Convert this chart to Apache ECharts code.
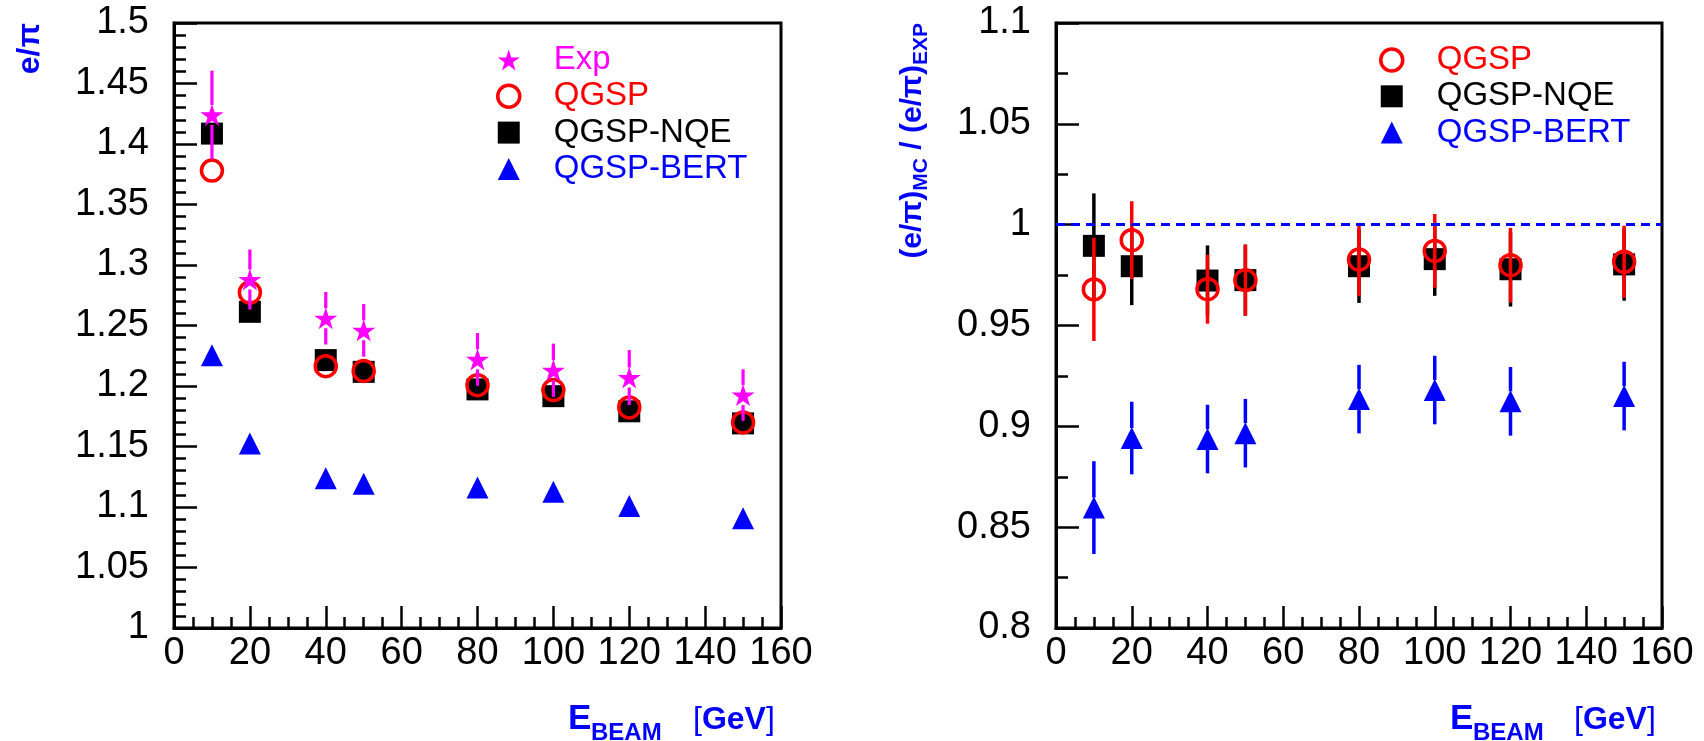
<!DOCTYPE html>
<html><head><meta charset="utf-8">
<script src="https://cdn.jsdelivr.net/npm/echarts@6/dist/echarts.min.js"></script>
<style>html,body{margin:0;padding:0;background:#fff}#c{width:1704px;height:741px}</style>
</head><body><div id="c"></div>
<script>
// ---------- data ----------
const energies = [10, 20, 40, 50, 80, 100, 120, 150];

// left panel: e/pi
const expVal  = [1.424, 1.288, 1.256, 1.246, 1.222, 1.213, 1.207, 1.1925];
const expErr  = [0.0366, 0.0248, 0.0217, 0.0218, 0.0218, 0.022, 0.0227, 0.0213];
const qgspVal = [1.378, 1.2773, 1.2164, 1.2125, 1.2007, 1.1966, 1.1823, 1.1699];
const nqeVal  = [1.4086, 1.2613, 1.2214, 1.2117, 1.1972, 1.1916, 1.1791, 1.1691];
const bertVal = [1.2255, 1.1525, 1.1238, 1.1193, 1.1162, 1.1126, 1.1008, 1.0906];

// right panel: (e/pi)_MC / (e/pi)_EXP
const rQgspVal = [0.9679, 0.9923, 0.968, 0.9725, 0.9827, 0.987, 0.9799, 0.9816];
const rQgspErr = [0.0256, 0.0193, 0.0171, 0.0176, 0.0182, 0.0183, 0.0185, 0.0179];
const rNqeVal  = [0.9895, 0.9794, 0.9723, 0.9725, 0.9794, 0.9829, 0.9779, 0.9803];
const rNqeErr  = [0.026, 0.0193, 0.0174, 0.0176, 0.0182, 0.0182, 0.0185, 0.018];
const rBertVal = [0.8597, 0.8942, 0.8937, 0.8966, 0.9135, 0.918, 0.9124, 0.915];
const rBertErr = [0.023, 0.018, 0.017, 0.017, 0.017, 0.017, 0.017, 0.017];
const refLine  = [1];

// tick labels
const xTicks      = [0, 20, 40, 60, 80, 100, 120, 140, 160];
const leftYTicks  = [1, 1.05, 1.1, 1.15, 1.2, 1.25, 1.3, 1.35, 1.4, 1.45, 1.5];
const rightYTicks = [0.8, 0.85, 0.9, 0.95, 1, 1.05, 1.1];

// ---------- helpers ----------
const FONT = '"Liberation Sans", Arial, Helvetica, sans-serif';
const BLUE = '#0000ff', RED = '#ff0000', MAG = '#ff00ff', BLK = '#000000';
const STAR = 'path://M0,-1L0.2245,-0.309L0.951,-0.309L0.363,0.118L0.588,0.809L0,0.382L-0.588,0.809L-0.363,0.118L-0.951,-0.309L-0.2245,-0.309Z';

const pts = (vals) => energies.map((e, i) => [e, vals[i]]);
const errPts = (vals, errs) => energies.map((e, i) => [e, vals[i], vals[i] - errs[i], vals[i] + errs[i]]);
const step = (t) => Math.round((t[1] - t[0]) * 1e6) / 1e6;

function errRender(color, width, gap) {
  return function (params, api) {
    const x = api.value(0), v = api.value(1), lo = api.value(2), hi = api.value(3);
    const pc = api.coord([x, v]), pl = api.coord([x, lo]), ph = api.coord([x, hi]);
    const style = { stroke: color, lineWidth: width };
    const ch = [];
    if (gap > 0) {
      if (pc[1] - gap > ph[1]) ch.push({ type: 'line', shape: { x1: pc[0], y1: ph[1], x2: pc[0], y2: pc[1] - gap }, style });
      if (pl[1] > pc[1] + gap) ch.push({ type: 'line', shape: { x1: pc[0], y1: pc[1] + gap, x2: pc[0], y2: pl[1] }, style });
    } else {
      ch.push({ type: 'line', shape: { x1: pc[0], y1: ph[1], x2: pc[0], y2: pl[1] }, style });
    }
    return { type: 'group', children: ch };
  };
}

function xAxisCfg(gi) {
  return {
    type: 'value', gridIndex: gi, min: xTicks[0], max: xTicks[xTicks.length - 1], interval: step(xTicks),
    axisLine: { show: true, onZero: false, lineStyle: { color: BLK, width: 3 } },
    axisTick: { show: true, inside: true, length: 22, lineStyle: { color: BLK, width: 2.5 } },
    minorTick: { show: true, splitNumber: 4, length: 11, lineStyle: { color: BLK, width: 2.5 } },
    splitLine: { show: false }, minorSplitLine: { show: false },
    axisLabel: { color: BLK, fontSize: 38, fontFamily: FONT, margin: 7, showMinLabel: true, showMaxLabel: true }
  };
}
function yAxisCfg(gi, ticks, minorSplit) {
  return {
    type: 'value', gridIndex: gi, min: ticks[0], max: ticks[ticks.length - 1], interval: step(ticks),
    axisLine: { show: true, onZero: false, lineStyle: { color: BLK, width: 3 } },
    axisTick: { show: true, inside: true, length: 23, lineStyle: { color: BLK, width: 2.5 } },
    minorTick: { show: true, splitNumber: minorSplit, length: 12, lineStyle: { color: BLK, width: 2.5 } },
    splitLine: { show: false }, minorSplitLine: { show: false },
    axisLabel: { color: BLK, fontSize: 38, fontFamily: FONT, margin: 25, showMinLabel: true, showMaxLabel: true }
  };
}
const common = { silent: true, emphasis: { disabled: true }, animation: false };

function scatter(name, data, gi, symbol, size, style, z) {
  return Object.assign({ type: 'scatter', name, data, xAxisIndex: gi, yAxisIndex: gi, symbol, symbolSize: size,
    itemStyle: Object.assign({ opacity: 1 }, style), z }, common);
}
function errSeries(name, data, gi, color, width, gap, z) {
  return Object.assign({ type: 'custom', name, data, xAxisIndex: gi, yAxisIndex: gi, renderItem: errRender(color, width, gap), z,
    encode: { x: 0, y: [1, 2, 3] } }, common);
}

const circleStyle = { color: 'rgba(0,0,0,0)', borderColor: RED, borderWidth: 3.5 };

const chart = echarts.init(document.getElementById('c'), null, { renderer: 'canvas' });
chart.setOption({
  animation: false,
  backgroundColor: '#ffffff',
  textStyle: { fontFamily: FONT },
  grid: [
    { left: 174, top: 23, width: 607, height: 605, show: true, borderColor: BLK, borderWidth: 3, containLabel: false, outerBoundsMode: 'none' },
    { left: 1056, top: 23, width: 606, height: 605, show: true, borderColor: BLK, borderWidth: 3, containLabel: false, outerBoundsMode: 'none' }
  ],
  xAxis: [xAxisCfg(0), xAxisCfg(1)],
  yAxis: [yAxisCfg(0, leftYTicks, 5), yAxisCfg(1, rightYTicks, 2)],
  legend: [
    {
      left: 496, top: 43.5, orient: 'vertical', padding: 0, itemWidth: 22, itemHeight: 22, itemGap: 3.3, selectedMode: false,
      textStyle: { fontSize: 33, fontFamily: FONT, padding: [0, 0, 0, 29] },
      data: [
        { name: 'Exp', textStyle: { color: MAG } },
        { name: 'QGSP', textStyle: { color: RED }, itemStyle: { borderWidth: 3.5 } },
        { name: 'QGSP-NQE', textStyle: { color: BLK } },
        { name: 'QGSP-BERT', textStyle: { color: BLUE } }
      ]
    },
    {
      left: 1379, top: 43.5, orient: 'vertical', padding: 0, itemWidth: 22, itemHeight: 22, itemGap: 3.3, selectedMode: false,
      textStyle: { fontSize: 33, fontFamily: FONT, padding: [0, 0, 0, 29] },
      data: [
        { name: 'QGSP', textStyle: { color: RED }, itemStyle: { borderWidth: 3.5 } },
        { name: 'QGSP-NQE', textStyle: { color: BLK } },
        { name: 'QGSP-BERT', textStyle: { color: BLUE } }
      ]
    }
  ],
  series: [
    // left panel
    scatter('QGSP-BERT', pts(bertVal), 0, 'triangle', 22, { color: BLUE }, 2),
    scatter('QGSP-NQE', pts(nqeVal), 0, 'rect', 22, { color: BLK }, 3),
    scatter('QGSP', pts(qgspVal), 0, 'circle', 21, circleStyle, 4),
    errSeries('Exp err', errPts(expVal, expErr), 0, MAG, 3.2, 10, 5),
    scatter('Exp', pts(expVal), 0, STAR, [23, 22], { color: MAG }, 6),
    // right panel
    errSeries('NQE ratio err', errPts(rNqeVal, rNqeErr), 1, BLK, 3.5, 0, 2),
    scatter('QGSP-NQE', pts(rNqeVal), 1, 'rect', 22, { color: BLK }, 3),
    errSeries('QGSP ratio err', errPts(rQgspVal, rQgspErr), 1, RED, 3.5, 0, 4),
    Object.assign(scatter('QGSP', pts(rQgspVal), 1, 'circle', 21, circleStyle, 5), {
      markLine: { silent: true, symbol: 'none', label: { show: false }, animation: false,
        lineStyle: { color: BLUE, type: [9, 6], width: 3, opacity: 1 },
        data: refLine.map(v => ({ yAxis: v })) }
    }),
    errSeries('BERT ratio err', errPts(rBertVal, rBertErr), 1, BLUE, 3.5, 10, 6),
    scatter('QGSP-BERT', pts(rBertVal), 1, 'triangle', 22, { color: BLUE }, 7)
  ],
  graphic: [
    // left y title
    { type: 'text', x: 30, y: 23, rotation: Math.PI / 2, silent: true,
      style: { text: 'e/π', font: 'bold 32px ' + FONT, fill: BLUE, align: 'right', verticalAlign: 'middle' } },
    // right y title
    { type: 'text', x: 913, y: 23, rotation: Math.PI / 2, silent: true,
      style: { text: '{m|(e/π)}{s|MC}{m| / (e/π)}{s|EXP}', align: 'right', verticalAlign: 'middle', fill: BLUE,
        rich: {
          m: { fontSize: 30, fontWeight: 'bold', fontFamily: FONT, fill: BLUE, lineHeight: 40 },
          s: { fontSize: 21, fontWeight: 'bold', fontFamily: FONT, fill: BLUE, padding: [17, 0, 0, 0] }
        } } },
    // left x title
    { type: 'text', x: 568, y: 719, silent: true, style: { text: 'E', font: 'bold 35px ' + FONT, fill: BLUE, align: 'left', verticalAlign: 'middle' } },
    { type: 'text', x: 591, y: 733, silent: true, style: { text: 'BEAM', font: 'bold 24px ' + FONT, fill: BLUE, align: 'left', verticalAlign: 'middle' } },
    { type: 'text', x: 693, y: 720, silent: true, style: { text: '{b|[}{g|GeV}{b|]}', align: 'left', verticalAlign: 'middle', fill: BLUE,
        rich: { b: { fontSize: 32, fontFamily: FONT, fill: BLUE }, g: { fontSize: 32, fontWeight: 'bold', fontFamily: FONT, fill: BLUE } } } },
    // right x title
    { type: 'text', x: 1450, y: 719, silent: true, style: { text: 'E', font: 'bold 35px ' + FONT, fill: BLUE, align: 'left', verticalAlign: 'middle' } },
    { type: 'text', x: 1473, y: 733, silent: true, style: { text: 'BEAM', font: 'bold 24px ' + FONT, fill: BLUE, align: 'left', verticalAlign: 'middle' } },
    { type: 'text', x: 1574, y: 720, silent: true, style: { text: '{b|[}{g|GeV}{b|]}', align: 'left', verticalAlign: 'middle', fill: BLUE,
        rich: { b: { fontSize: 32, fontFamily: FONT, fill: BLUE }, g: { fontSize: 32, fontWeight: 'bold', fontFamily: FONT, fill: BLUE } } } }
  ]
});
</script>
</body></html>
